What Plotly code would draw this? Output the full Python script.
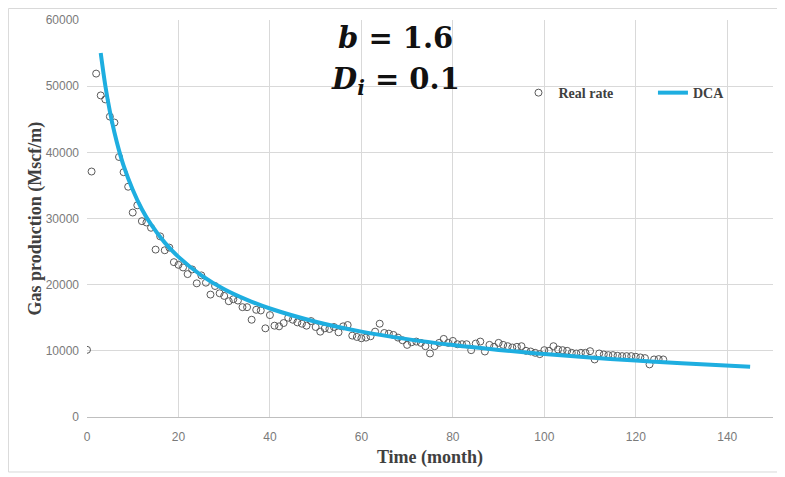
import plotly.graph_objects as go

# Observed monthly gas rate (Mscf/m), months 0..126
months = list(range(127))
real_rate = [
    10150, 37100, 51900, 48600, 48000, 45400, 44500, 39300, 37000, 34800,
    30900, 32000, 29600, 29400, 28600, 25300, 27300, 25200, 25600, 23400,
    23000, 22600, 21600, 22300, 20200, 21400, 20300, 18500, 19800, 18700,
    18300, 17500, 17800, 17600, 16600, 16600, 14700, 16200, 16100, 13400,
    15400, 13800, 13700, 14200, 15000, 14700, 14300, 14100, 13800, 14500,
    13600, 12900, 13400, 13300, 13600, 12800, 13700, 13900, 12300, 12100,
    11900, 12000, 12200, 12900, 14100, 12700, 12600, 12400, 12000, 11600,
    10900, 11300, 11400, 11200, 10700, 9600, 10700, 11200, 11800, 11200,
    11500, 11000, 11000, 11000, 10100, 11100, 11400, 9900, 10900, 10600,
    11200, 10900, 10700, 10500, 10600, 10700, 10000, 9900, 9700, 9500,
    10100, 10000, 10700, 10200, 10100, 10000, 9700, 9600, 9700, 9700,
    9950, 8700, 9600, 9450, 9350, 9350, 9250, 9200, 9200, 9200,
    9100, 9000, 8900, 7950, 8700, 8750, 8700,
]

# DCA curve
dca_t = [3, 4, 5, 6, 7, 8, 10, 12, 14, 17, 20, 25, 30, 35, 40, 50, 60, 70,
         80, 90, 100, 110, 120, 130, 145]
dca_q = [55000, 50100, 46200, 43000, 40300, 38000, 34350, 31400, 29100, 26350,
         24200, 21400, 19300, 17700, 16400, 14400, 12900, 11770, 10870, 10130,
         9510, 8990, 8530, 8130, 7590]

x_ticks = [0, 20, 40, 60, 80, 100, 120, 140]
y_ticks = [0, 10000, 20000, 30000, 40000, 50000, 60000]

legend_font = dict(family="Liberation Serif", size=14, color="#404040")
tick_font = dict(family="Liberation Sans", size=12, color="#7a7a7a")

fig = go.Figure()
fig.add_trace(go.Scatter(
    x=months, y=real_rate, mode="markers", name="<b>Real rate</b>", legend="legend",
    marker=dict(symbol="circle-open", size=7, color="#5a5a5a",
                line=dict(width=1, color="#5a5a5a")),
))
fig.add_trace(go.Scatter(
    x=dca_t, y=dca_q, mode="lines", name="<b>DCA</b>", legend="legend2",
    line=dict(color="#1eaee0", width=4, shape="spline"),
))

fig.update_layout(
    width=777, height=469,
    margin=dict(l=79, r=12, t=12, b=60, autoexpand=False),
    paper_bgcolor="white", plot_bgcolor="white",
    showlegend=True,
    legend=dict(orientation="h", x=0.629, y=0.816, xanchor="left", yanchor="middle",
                font=legend_font, bgcolor="rgba(0,0,0,0)", itemwidth=30),
    legend2=dict(orientation="h", x=0.825, y=0.816, xanchor="left", yanchor="middle",
                 font=legend_font, bgcolor="rgba(0,0,0,0)", itemwidth=30),
    xaxis=dict(range=[0, 150], tickvals=x_ticks, showgrid=True, gridcolor="#d9d9d9",
               zeroline=False, showline=True, linecolor="#bfbfbf", linewidth=1,
               automargin=False, tickfont=tick_font, ticklabelstandoff=9,
               title=dict(text="<b>Time (month)</b>", standoff=6,
                          font=dict(family="Liberation Serif", size=18, color="#404040"))),
    yaxis=dict(range=[0, 60000], tickvals=y_ticks, tickformat="d", showgrid=True,
               gridcolor="#d9d9d9", zeroline=False, showline=False, automargin=False,
               tickfont=tick_font, ticklabelstandoff=7),
    annotations=[
        dict(text="<b>Gas production (Mscf/m)</b>", x=-0.0758, y=0.5,
             xref="paper", yref="paper", textangle=-90, showarrow=False,
             xanchor="center", yanchor="middle",
             font=dict(family="Liberation Serif", size=18, color="#404040")),
        dict(text="<b><i>b</i> = 1.6</b>", x=0.45, y=0.955, xref="paper", yref="paper",
             xanchor="center", yanchor="middle", showarrow=False,
             font=dict(family="DejaVu Serif", size=29, color="#111111")),
        dict(text="<b><i>D<sub>i</sub></i> = 0.1</b>", x=0.45, y=0.846, xref="paper", yref="paper",
             xanchor="center", yanchor="middle", showarrow=False,
             font=dict(family="DejaVu Serif", size=29, color="#111111")),
    ],
    shapes=[dict(type="rect", xref="paper", yref="paper",
                 x0=-0.1145, x1=1.0131, y0=-0.1385, y1=1.029,
                 line=dict(color="#d9d9d9", width=1), fillcolor="rgba(0,0,0,0)",
                 layer="below")],
)

fig.write_html("out.html")
